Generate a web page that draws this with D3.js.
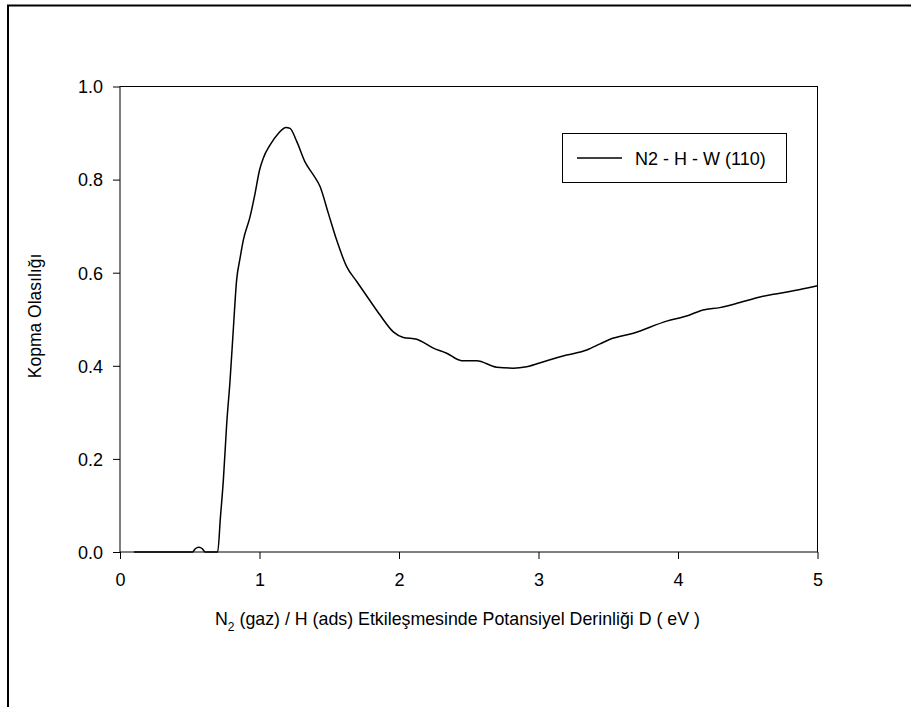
<!DOCTYPE html>
<html>
<head>
<meta charset="utf-8">
<script src="https://cdn.jsdelivr.net/npm/d3@7/dist/d3.min.js"></script>
<style>
  html, body { margin: 0; padding: 0; background: #fff; }
  svg { display: block; font-family: "Liberation Sans", Arial, sans-serif; }
</style>
</head>
<body>
<svg id="chart" width="911" height="707"></svg>
<script>
// Potential well depth D (eV)
const depth = [0.10, 0.30, 0.50, 0.52, 0.54, 0.565, 0.59, 0.61, 0.65, 0.70, 0.72, 0.741, 0.765, 0.789, 0.812, 0.836,
  0.86, 0.884, 0.932, 0.968, 1.00, 1.027, 1.075, 1.135, 1.19, 1.219, 1.267, 1.326, 1.386, 1.434,
  1.493, 1.553, 1.625, 1.697, 1.78, 1.864, 1.959, 2.031, 2.127, 2.246, 2.342, 2.449, 2.557,
  2.70, 2.82, 2.915, 3.059, 3.202, 3.346, 3.441, 3.513, 3.68, 3.919, 4.062, 4.18, 4.30,
  4.444, 4.588, 4.731, 4.875, 5.00];
// Dissociation probability
const probability = [0.000, 0.000, 0.000, 0.000, 0.007, 0.010, 0.007, 0.000, 0.000, 0.000, 0.075, 0.155, 0.276, 0.369, 0.477, 0.584,
  0.630, 0.670, 0.720, 0.770, 0.820, 0.846, 0.874, 0.899, 0.912, 0.910, 0.882, 0.838, 0.810, 0.785,
  0.728, 0.670, 0.613, 0.581, 0.545, 0.509, 0.473, 0.461, 0.457, 0.438, 0.427, 0.411, 0.411,
  0.397, 0.395, 0.398, 0.411, 0.423, 0.434, 0.447, 0.457, 0.470, 0.496, 0.507, 0.520, 0.525,
  0.536, 0.548, 0.556, 0.564, 0.572];
const xTicks = [0, 1, 2, 3, 4, 5];
const yTicks = [0.0, 0.2, 0.4, 0.6, 0.8, 1.0];
const seriesName = "N2 - H - W (110)";

const svg = d3.select("#chart");
const fontStack = "'Liberation Sans', Arial, sans-serif";

// page frame
svg.append("path")
  .attr("d", "M8,707 L8,5.5 L911,5.5")
  .attr("fill", "none").attr("stroke", "#000").attr("stroke-width", 2);

const plotLeft = 120, plotRight = 817.5, plotTop = 86.5, plotBottom = 552;
const x = d3.scaleLinear().domain([0, 5]).range([plotLeft, plotRight]);
const y = d3.scaleLinear().domain([0, 1]).range([plotBottom, plotTop]);

const data = depth.map((d, i) => ({ x: d, y: probability[i] }));

// axes
const xAxis = svg.append("g").attr("transform", `translate(0,${plotBottom})`)
  .call(d3.axisBottom(x).tickValues(xTicks).tickFormat(d3.format("d")).tickSize(7).tickSizeOuter(0));
const yAxis = svg.append("g").attr("transform", `translate(${plotLeft},0)`)
  .call(d3.axisLeft(y).tickValues(yTicks).tickFormat(d3.format(".1f")).tickSize(7).tickSizeOuter(0));
[xAxis, yAxis].forEach(g => {
  g.select(".domain").remove();
  g.selectAll("line").attr("stroke", "#000").attr("stroke-width", 1);
  g.selectAll("text").attr("fill", "#000").style("font-size", "18px").style("font-family", fontStack);
});
xAxis.selectAll("text").attr("y", 34).attr("dy", null);
yAxis.selectAll("text").attr("x", -17).attr("dy", "0.35em");

// plot box
svg.append("rect")
  .attr("x", plotLeft).attr("y", plotTop)
  .attr("width", plotRight - plotLeft).attr("height", plotBottom - plotTop)
  .attr("fill", "none").attr("stroke", "#000").attr("stroke-width", 1);

// curve
svg.append("path")
  .datum(data)
  .attr("d", d3.line().x(d => x(d.x)).y(d => y(d.y)).curve(d3.curveMonotoneX))
  .attr("fill", "none").attr("stroke", "#000").attr("stroke-width", 1.5);

// legend
const lg = svg.append("g");
lg.append("rect").attr("x", 562.5).attr("y", 133.5).attr("width", 224).attr("height", 49)
  .attr("fill", "#fff").attr("stroke", "#000").attr("stroke-width", 1);
lg.append("line").attr("x1", 577).attr("x2", 622).attr("y1", 158).attr("y2", 158)
  .attr("stroke", "#000").attr("stroke-width", 1.5);
lg.append("text").attr("x", 635).attr("y", 164.5).style("font-size", "18px")
  .style("font-family", fontStack).text(seriesName);

// axis titles
const xt = svg.append("text").attr("x", 457.5).attr("y", 624.5)
  .attr("text-anchor", "middle").style("font-size", "17.8px").style("font-family", fontStack);
xt.append("tspan").text("N");
xt.append("tspan").attr("dy", 6).style("font-size", "12px").text("2");
xt.append("tspan").attr("dy", -6).text(" (gaz) / H (ads) Etkileşmesinde Potansiyel Derinliği D ( eV )");

svg.append("text")
  .attr("transform", "translate(41,316) rotate(-90)")
  .attr("text-anchor", "middle").style("font-size", "17.5px").style("font-family", fontStack)
  .text("Kopma Olasılığı");
</script>
</body>
</html>
